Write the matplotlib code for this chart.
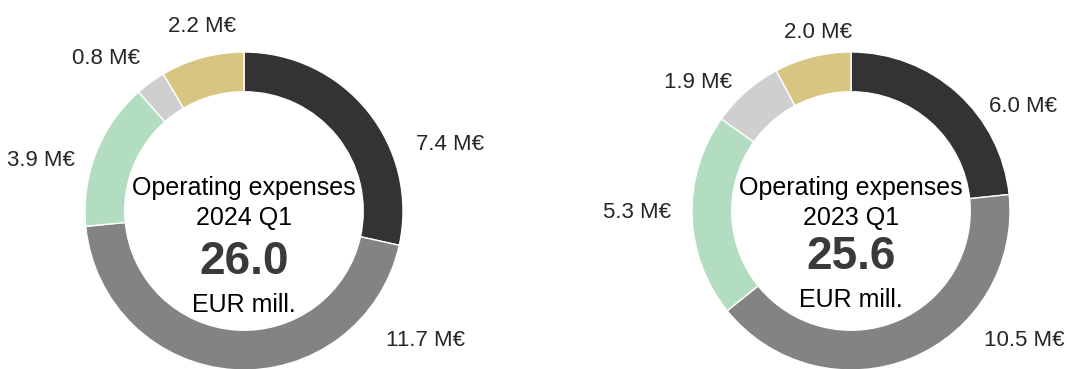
import matplotlib
matplotlib.use("Agg")
import matplotlib.pyplot as plt

plt.rcParams['font.family'] = ['Liberation Sans', 'DejaVu Sans']

# data
periods = ['2024 Q1', '2023 Q1']
totals = [26.0, 25.6]
values_2024 = [7.4, 11.7, 3.9, 0.8, 2.2]
values_2023 = [6.0, 10.5, 5.3, 1.9, 2.0]
colors = ['#333333', '#838383', '#b3ddc0', '#d0cfcf', '#d8c582']

# layout (pixels, origin top-left)
W, H = 1067, 369
centers = [(244, 211), (851, 211)]
radius = 159
label_pos = [
    [(450, 145), (425, 340), (41, 160), (106, 58), (202, 27)],
    [(1023, 107), (1024, 340), (637, 213), (698, 82), (818, 32)],
]

fig = plt.figure(figsize=(W / 100, H / 100), dpi=100)
ax = fig.add_axes([0, 0, 1, 1])

for i, vals in enumerate([values_2024, values_2023]):
    cx, cy = centers[i]
    ax.pie(vals, colors=colors, startangle=90, counterclock=False,
           center=(cx, H - cy), radius=radius, frame=True,
           wedgeprops=dict(width=radius * 0.25, edgecolor='white', linewidth=1))
    for v, (lx, ly) in zip(vals, label_pos[i]):
        ax.text(lx, H - ly, '%.1f M€' % v, ha='center', va='center',
                fontsize=16, color='#262626')
    ax.text(cx, H - 188, 'Operating expenses', ha='center', va='center',
            fontsize=18, color='black')
    ax.text(cx, H - 218, periods[i], ha='center', va='center',
            fontsize=18, color='black')
    ax.text(cx, H - (262 if i == 0 else 257), '%.1f' % totals[i],
            ha='center', va='center', fontsize=33, fontweight='bold',
            color='#3a3a3a')
    ax.text(cx, H - (305 if i == 0 else 300), 'EUR mill.', ha='center',
            va='center', fontsize=18, color='black')

ax.set_xlim(0, W)
ax.set_ylim(0, H)
ax.set_aspect('auto')
ax.axis('off')

plt.savefig('out.png', dpi=100)
